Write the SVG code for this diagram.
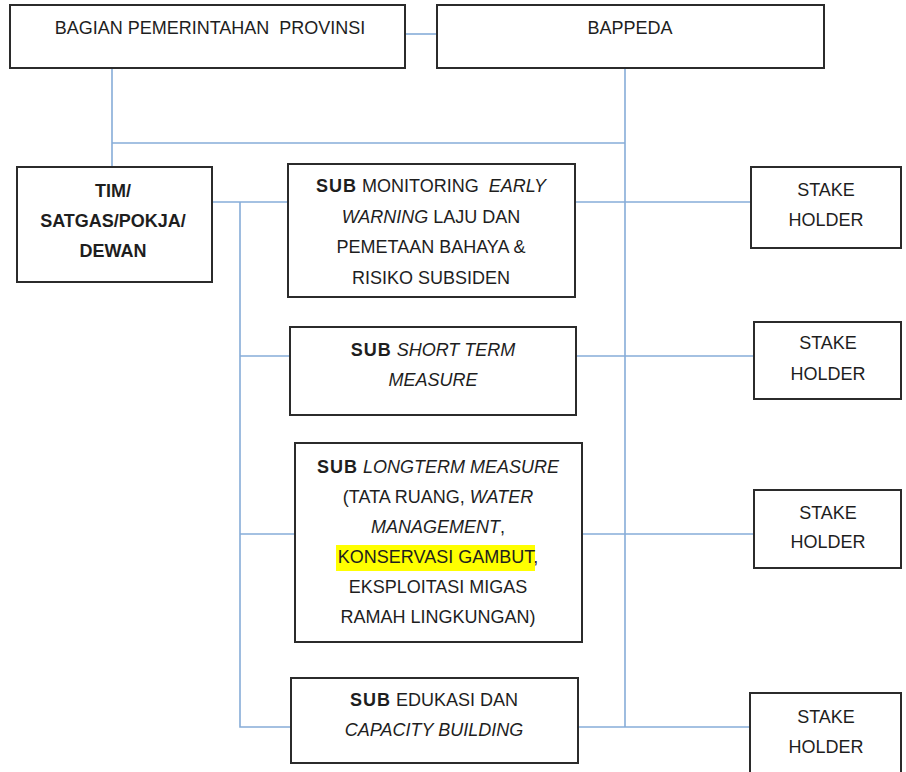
<svg xmlns="http://www.w3.org/2000/svg" width="906" height="772" viewBox="0 0 906 772">
<style>
.box{fill:#fff;stroke:#2b2b2b;stroke-width:2}
.ln{fill:none;stroke:#86acd8;stroke-width:1.6}
text{font-family:"Liberation Sans",Arial,sans-serif;font-size:18px;fill:#1e1e1e;text-anchor:middle}
.b{font-weight:bold}
.sb{font-weight:bold;letter-spacing:1px}
.i{font-style:italic}
.hl{fill:#ffff00}
</style>
<rect width="906" height="772" fill="#fff"/>
<g id="connectors">
<path class="ln" d="M405 34 H437"/>
<path class="ln" d="M112 68 V167"/>
<path class="ln" d="M112 143 H625"/>
<path class="ln" d="M625 68 V727"/>
<path class="ln" d="M212 202 H288"/>
<path class="ln" d="M240 202 V727 H291"/>
<path class="ln" d="M240 356 H290"/>
<path class="ln" d="M240 534 H295"/>
<path class="ln" d="M575 202 H751"/>
<path class="ln" d="M576 356 H754"/>
<path class="ln" d="M582 534 H754"/>
<path class="ln" d="M578 727 H750"/>
</g>
<g id="bagian">
<rect class="box" x="10" y="5" width="395" height="63"/>
<text x="210" y="34" xml:space="preserve">BAGIAN PEMERINTAHAN  PROVINSI</text>
</g>
<g id="bappeda">
<rect class="box" x="437" y="5" width="387" height="63"/>
<text x="630" y="34">BAPPEDA</text>
</g>
<g id="tim">
<rect class="box" x="17" y="167" width="195" height="115"/>
<text class="b" x="113" y="197">TIM/</text>
<text class="b" x="113" y="227">SATGAS/POKJA/</text>
<text class="b" x="113" y="257">DEWAN</text>
</g>
<g id="sub-monitoring">
<rect class="box" x="288" y="164" width="287" height="133"/>
<text x="431" y="192" xml:space="preserve"><tspan class="sb">SUB</tspan> MONITORING  <tspan class="i">EARLY</tspan></text>
<text x="431" y="223"><tspan class="i">WARNING</tspan> LAJU DAN</text>
<text x="431" y="253">PEMETAAN BAHAYA &amp;</text>
<text x="431" y="284">RISIKO SUBSIDEN</text>
</g>
<g id="sub-short">
<rect class="box" x="290" y="327" width="286" height="88"/>
<text x="433" y="356"><tspan class="sb">SUB</tspan> <tspan class="i">SHORT TERM</tspan></text>
<text class="i" x="433" y="386">MEASURE</text>
</g>
<g id="sub-long">
<rect class="box" x="295" y="443" width="287" height="199"/>
<rect class="hl" x="336" y="545" width="199" height="26"/>
<text x="438" y="473"><tspan class="sb">SUB</tspan> <tspan class="i">LONGTERM MEASURE</tspan></text>
<text x="438" y="503">(TATA RUANG, <tspan class="i">WATER</tspan></text>
<text x="438" y="533"><tspan class="i">MANAGEMENT</tspan>,</text>
<text x="438" y="563">KONSERVASI GAMBUT,</text>
<text x="438" y="593">EKSPLOITASI MIGAS</text>
<text x="438" y="623">RAMAH LINGKUNGAN)</text>
</g>
<g id="sub-edukasi">
<rect class="box" x="291" y="678" width="287" height="85"/>
<text x="434" y="706"><tspan class="sb">SUB</tspan> EDUKASI DAN</text>
<text class="i" x="434" y="736">CAPACITY BUILDING</text>
</g>
<g id="stake1">
<rect class="box" x="751" y="167" width="150" height="81"/>
<text x="826" y="196">STAKE</text>
<text x="826" y="226">HOLDER</text>
</g>
<g id="stake2">
<rect class="box" x="754" y="322" width="147" height="77"/>
<text x="828" y="349">STAKE</text>
<text x="828" y="380">HOLDER</text>
</g>
<g id="stake3">
<rect class="box" x="754" y="490" width="147" height="78"/>
<text x="828" y="519">STAKE</text>
<text x="828" y="548">HOLDER</text>
</g>
<g id="stake4">
<rect class="box" x="750" y="693" width="151" height="90"/>
<text x="826" y="723">STAKE</text>
<text x="826" y="753">HOLDER</text>
</g>
</svg>
